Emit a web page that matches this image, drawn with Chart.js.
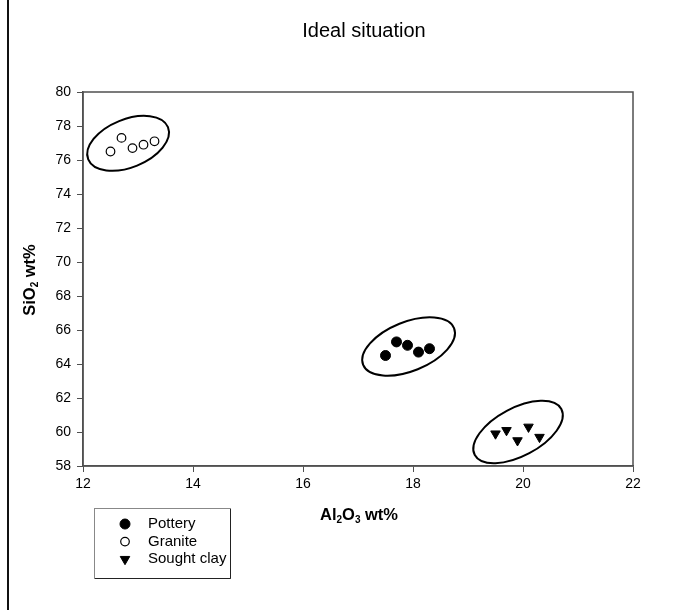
<!DOCTYPE html>
<html>
<head>
<meta charset="utf-8">
<script src="https://cdn.jsdelivr.net/npm/chart.js@4/dist/chart.umd.min.js"></script>
<style>
  html, body { margin: 0; padding: 0; background: #fff; }
  #wrap { width: 676px; height: 610px; }
</style>
</head>
<body>
<div id="wrap"><canvas id="chart" width="676" height="610"></canvas></div>
<script>
'use strict';

// tick labels
const xTicks = [12, 14, 16, 18, 20, 22];
const yTicks = [58, 60, 62, 64, 66, 68, 70, 72, 74, 76, 78, 80];

// Al2O3 / SiO2 wt% per group
const potteryAl = [17.5, 17.7, 17.9, 18.1, 18.3];
const potterySi = [64.5, 65.3, 65.1, 64.7, 64.9];
const graniteAl = [12.5, 12.7, 12.9, 13.1, 13.3];
const graniteSi = [76.5, 77.3, 76.7, 76.9, 77.1];
const clayAl = [19.5, 19.7, 19.9, 20.1, 20.3];
const claySi = [59.9, 60.1, 59.5, 60.3, 59.7];

// rings drawn round each group (centre in data units)
const rings = [
    { x: 12.82, y: 76.98, a: 43, b: 24, angle: 22 },
    { x: 17.92, y: 65.03, a: 49, b: 24.5, angle: 22 },
    { x: 19.91, y: 60.0, a: 49, b: 24, angle: 28 }
];

const FONT = '"Liberation Sans", Arial, sans-serif';
const toPoints = (xs, ys) => xs.map((x, i) => ({ x: x, y: ys[i] }));

// draw text with subscript parts, centred on (cx, cy); odd parts are subscripts
function drawSubText(ctx, parts, cx, cy, size, rotate) {
    ctx.save();
    ctx.translate(cx, cy);
    if (rotate) ctx.rotate(-Math.PI / 2);
    const subSize = Math.round(size * 0.62);
    let total = 0;
    const widths = parts.map((p, i) => {
        ctx.font = 'bold ' + (i % 2 ? subSize : size) + 'px ' + FONT;
        const w = ctx.measureText(p).width;
        total += w;
        return w;
    });
    let x = -total / 2;
    ctx.textBaseline = 'middle';
    ctx.textAlign = 'left';
    ctx.fillStyle = '#000';
    parts.forEach((p, i) => {
        ctx.font = 'bold ' + (i % 2 ? subSize : size) + 'px ' + FONT;
        ctx.fillText(p, x, i % 2 ? size * 0.32 : 0);
        x += widths[i];
    });
    ctx.restore();
}

function drawMarker(ctx, ds, x, y) {
    ctx.save();
    ctx.fillStyle = ds.pointBackgroundColor;
    ctx.strokeStyle = ds.pointBorderColor;
    ctx.lineWidth = ds.pointBorderWidth;
    ctx.beginPath();
    if (ds.pointStyle === 'triangle') {
        const r = ds.pointRadius;
        ctx.moveTo(x - r * 0.866, y - r * 0.5);
        ctx.lineTo(x + r * 0.866, y - r * 0.5);
        ctx.lineTo(x, y + r);
        ctx.closePath();
    } else {
        ctx.arc(x, y, ds.pointRadius, 0, Math.PI * 2);
    }
    ctx.fill();
    ctx.stroke();
    ctx.restore();
}

const decorPlugin = {
    id: 'decor',
    afterDatasetsDraw(chart) {
        const ctx = chart.ctx;
        const xs = chart.scales.x, ys = chart.scales.y;
        ctx.save();
        ctx.strokeStyle = '#000';
        ctx.lineWidth = 2;
        rings.forEach(r => {
            ctx.beginPath();
            ctx.ellipse(xs.getPixelForValue(r.x), ys.getPixelForValue(r.y), r.a, r.b,
                -r.angle * Math.PI / 180, 0, Math.PI * 2);
            ctx.stroke();
        });
        ctx.restore();
    },
    afterDraw(chart) {
        const ctx = chart.ctx;
        const area = chart.chartArea;
        const midX = (area.left + area.right) / 2;

        // plot frame
        ctx.save();
        ctx.strokeStyle = '#505050';
        ctx.lineWidth = 1.5;
        ctx.strokeRect(area.left, area.top, area.right - area.left, area.bottom - area.top);

        // outer left rule
        ctx.fillStyle = '#111';
        ctx.fillRect(7, 0, 2, 610);

        // title
        ctx.fillStyle = '#000';
        ctx.font = '20px ' + FONT;
        ctx.textAlign = 'center';
        ctx.textBaseline = 'middle';
        ctx.fillText('Ideal situation', midX + 6, 31);
        ctx.restore();

        drawSubText(ctx, ['Al', '2', 'O', '3', ' wt%'], midX + 1, 515, 16.5, false);
        drawSubText(ctx, ['SiO', '2', ' wt%'], 30, (area.top + area.bottom) / 2 + 1, 16.5, true);

        // legend box
        const lx = 94, ly = 508, lw = 136, lh = 70;
        ctx.save();
        ctx.strokeStyle = '#888';
        ctx.lineWidth = 1;
        ctx.strokeRect(lx + 0.5, ly + 0.5, lw, lh);
        ctx.strokeStyle = '#222';
        ctx.beginPath();
        ctx.moveTo(lx + lw + 0.5, ly + 1);
        ctx.lineTo(lx + lw + 0.5, ly + lh + 0.5);
        ctx.lineTo(lx + 1, ly + lh + 0.5);
        ctx.stroke();
        ctx.font = '15px ' + FONT;
        ctx.fillStyle = '#000';
        ctx.textAlign = 'left';
        ctx.textBaseline = 'middle';
        chart.data.datasets.forEach((ds, i) => {
            const y = ly + 16 + i * 17.6;
            drawMarker(ctx, ds, lx + 31, y);
            ctx.fillText(ds.label, lx + 54, y);
        });
        ctx.restore();
    }
};

new Chart(document.getElementById('chart'), {
    type: 'scatter',
    data: {
        datasets: [
            {
                label: 'Pottery',
                data: toPoints(potteryAl, potterySi),
                pointStyle: 'circle',
                pointRadius: 5,
                pointBackgroundColor: '#000',
                pointBorderColor: '#000',
                pointBorderWidth: 1
            },
            {
                label: 'Granite',
                data: toPoints(graniteAl, graniteSi),
                pointStyle: 'circle',
                pointRadius: 4.3,
                pointBackgroundColor: '#fff',
                pointBorderColor: '#000',
                pointBorderWidth: 1.2
            },
            {
                label: 'Sought clay',
                data: toPoints(clayAl, claySi),
                pointStyle: 'triangle',
                pointRotation: 180,
                pointRadius: 5.5,
                pointBackgroundColor: '#000',
                pointBorderColor: '#000',
                pointBorderWidth: 1
            }
        ]
    },
    options: {
        responsive: false,
        animation: false,
        devicePixelRatio: 1,
        layout: { padding: { top: 92, right: 43, bottom: 0, left: 0 } },
        plugins: {
            legend: { display: false },
            title: { display: false },
            tooltip: { enabled: false }
        },
        scales: {
            x: {
                type: 'linear',
                min: 12,
                max: 22,
                afterBuildTicks: s => { s.ticks = xTicks.map(v => ({ value: v })); },
                afterFit: s => { s.height = 144; },
                grid: { drawOnChartArea: false, drawTicks: true, tickLength: 6, color: '#505050', lineWidth: 1 },
                border: { color: '#505050', width: 1.5 },
                ticks: { color: '#000', padding: 4, maxRotation: 0, font: { family: FONT, size: 14 } }
            },
            y: {
                type: 'linear',
                min: 58,
                max: 80,
                afterBuildTicks: s => { s.ticks = yTicks.map(v => ({ value: v })); },
                afterFit: s => { s.width = 83; },
                grid: { drawOnChartArea: false, drawTicks: true, tickLength: 6, color: '#505050', lineWidth: 1 },
                border: { color: '#505050', width: 1.5 },
                ticks: { color: '#000', padding: 6, font: { family: FONT, size: 14 } }
            }
        }
    },
    plugins: [decorPlugin]
});
</script>
</body>
</html>
